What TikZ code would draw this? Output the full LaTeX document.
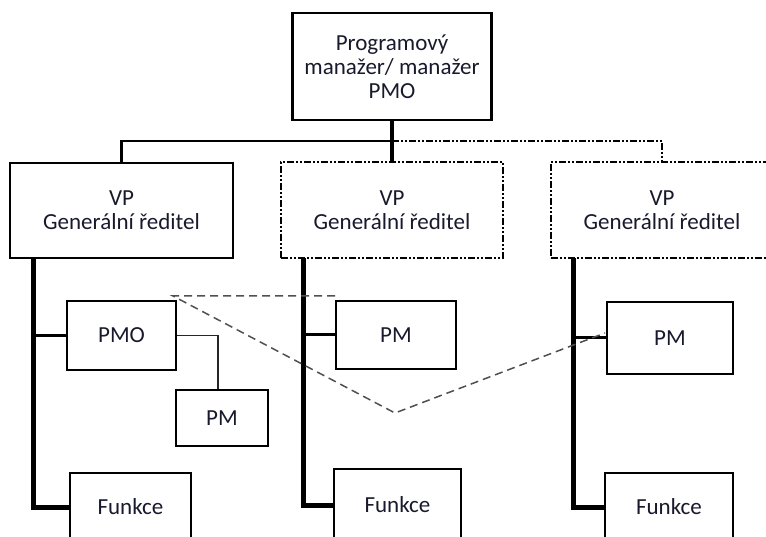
\documentclass[tikz,border=0pt]{standalone}
\usepackage{fontspec}
\setmainfont{Carlito}
\definecolor{ink}{RGB}{25,25,45}
\definecolor{guide}{RGB}{80,80,80}
\begin{document}
\begin{tikzpicture}[x=1pt,y=-1pt,
  box/.style={draw=black,line width=2.5pt,inner sep=0pt,text=ink,align=center,
    font=\fontsize{23}{24}\selectfont},
  dashbox/.style={box,line width=2pt,
    dash pattern=on 7pt off 2pt on 2pt off 2pt on 2pt off 2pt},
  dashlink/.style={line width=2pt,
    dash pattern=on 7pt off 2pt on 2pt off 2pt on 2pt off 2pt},
  trunk/.style={line width=5pt,line join=miter},
  branch/.style={line width=3pt},
  thinlink/.style={line width=1.5pt,draw=black!85},
  guideline/.style={line width=1.5pt,draw=guide,dash pattern=on 8pt off 5pt}]
\useasboundingbox (0,0) rectangle (766,537);

% top level
\node[box,minimum width=199pt,minimum height=107pt] (top) at (392,66.5)
  {Programový\\manažer/ manažer\\PMO};

% VP level
\node[box,minimum width=223pt,minimum height=95pt] (vp1) at (121.5,210.5)
  {VP\\Generální ředitel};
\node[dashbox,minimum width=222pt,minimum height=96pt] (vp2) at (392,210)
  {VP\\Generální ředitel};
\node[dashbox,minimum width=223pt,minimum height=96pt] (vp3) at (662,210)
  {VP\\Generální ředitel};

% second level
\node[box,minimum width=109pt,minimum height=69pt] (pmo) at (121.5,335.5) {PMO};
\node[box,minimum width=92pt,minimum height=56pt] (pm1) at (222,418) {PM};
\node[box,minimum width=120pt,minimum height=68pt] (pm2) at (396,335) {PM};
\node[box,minimum width=126pt,minimum height=72pt] (pm3) at (670,338) {PM};

% functions
\node[box,minimum width=121pt,minimum height=68pt] (f1) at (130.5,507) {Funkce};
\node[box,minimum width=127pt,minimum height=72pt] (f2) at (397.5,505) {Funkce};
\node[box,minimum width=128pt,minimum height=68pt] (f3) at (669,507) {Funkce};

% links from the top box
\coordinate (j) at (392,141);
\draw[line width=4.5pt] (top.south) -- (vp2.north);
\draw[line width=2.5pt] (j) -| (vp1.north);
\draw[dashlink] (j) -| (vp3.north);

% trunks under each VP
\coordinate (t1) at (33,258);
\coordinate (t2) at (303,258);
\coordinate (t3) at (573,258);
\draw[trunk] (t1) |- (f1.west);
\draw[trunk] (t2) |- (f2.west);
\draw[trunk] (t3) |- (f3.west);
\draw[branch] (t1 |- pmo.west) -- (pmo.west);
\draw[branch] (t2 |- pm2.west) -- (pm2.west);
\draw[branch] (t3 |- pm3.west) -- (pm3.west);

% PMO to its PM
\draw[thinlink] (pmo.east) -| ([xshift=-4pt]pm1.north);

% dashed outline across the columns
\coordinate (d1) at (173,296);
\coordinate (d2) at (335,296);
\coordinate (d3) at (395,413);
\coordinate (d4) at (605,333);
\draw[guideline] (d2) -- (d1) -- (d3) -- (d4);
\end{tikzpicture}
\end{document}
